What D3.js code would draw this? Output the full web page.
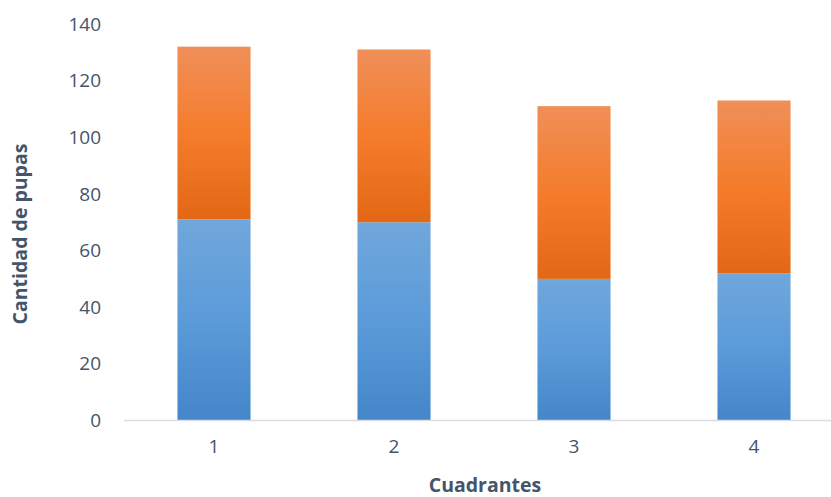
<!DOCTYPE html>
<html>
<head>
<meta charset="utf-8">
<script src="https://cdn.jsdelivr.net/npm/d3@7"></script>
<style>
  html, body { margin: 0; padding: 0; background: #fff; }
  svg { display: block; }
</style>
</head>
<body>
<svg id="chart" width="831" height="497"></svg>
<script>
// Pupae counted per quadrant, split into two stacked groups
const categories = ["1", "2", "3", "4"];
const seriesLower = [71, 70, 50, 52];
const seriesUpper = [61, 61, 61, 61];
const yTicks = [0, 20, 40, 60, 80, 100, 120, 140];

const svg = d3.select("#chart");
const plot = { left: 124, right: 844, top: 24, bottom: 420.5 };
const textColor = "#44546A";
const font = "'Open Sans', sans-serif";

const x = d3.scaleBand()
  .domain(categories)
  .range([plot.left, plot.right])
  .paddingInner(0.594)
  .paddingOuter(0.297);

const y = d3.scaleLinear()
  .domain([0, 140])
  .range([plot.bottom, plot.top]);

// Vertical gradients for the two series
const defs = svg.append("defs");
const blueGrad = defs.append("linearGradient")
  .attr("id", "gradBlue").attr("x1", 0).attr("y1", 0).attr("x2", 0).attr("y2", 1);
blueGrad.append("stop").attr("offset", "0%").attr("stop-color", "#70A7DC");
blueGrad.append("stop").attr("offset", "50%").attr("stop-color", "#5B9BD9");
blueGrad.append("stop").attr("offset", "100%").attr("stop-color", "#4486C9");

const orangeGrad = defs.append("linearGradient")
  .attr("id", "gradOrange").attr("x1", 0).attr("y1", 0).attr("x2", 0).attr("y2", 1);
orangeGrad.append("stop").attr("offset", "0%").attr("stop-color", "#F08F59");
orangeGrad.append("stop").attr("offset", "50%").attr("stop-color", "#F47C2B");
orangeGrad.append("stop").attr("offset", "100%").attr("stop-color", "#E36815");

const rows = categories.map((c, i) => ({ cat: c, lower: seriesLower[i], upper: seriesUpper[i] }));
const stacked = d3.stack().keys(["lower", "upper"])(rows);
const fills = { lower: "url(#gradBlue)", upper: "url(#gradOrange)" };

svg.append("g").selectAll("g")
  .data(stacked)
  .join("g")
  .attr("fill", d => fills[d.key])
  .selectAll("rect")
  .data(d => d)
  .join("rect")
  .attr("x", d => x(d.data.cat))
  .attr("width", x.bandwidth())
  .attr("y", d => y(d[1]))
  .attr("height", d => y(d[0]) - y(d[1]));

// Baseline axis
svg.append("line")
  .attr("x1", plot.left).attr("x2", plot.right)
  .attr("y1", y(0)).attr("y2", y(0))
  .attr("stroke", "#D9DEE6").attr("stroke-width", 1.5);

// Y tick labels
const yAxis = svg.append("g")
  .attr("transform", `translate(${plot.left},0)`)
  .call(d3.axisLeft(y).tickValues(yTicks).tickSize(0).tickPadding(23));
yAxis.select(".domain").remove();
yAxis.selectAll("text")
  .attr("fill", textColor)
  .style("font-family", font)
  .style("font-size", "19px");

// X tick labels
const xAxis = svg.append("g")
  .attr("transform", `translate(0,${y(0)})`)
  .call(d3.axisBottom(x).tickSize(0).tickPadding(19));
xAxis.select(".domain").remove();
xAxis.selectAll("text")
  .attr("fill", textColor)
  .style("font-family", font)
  .style("font-size", "19px");

// Axis titles
svg.append("text")
  .attr("x", 485).attr("y", 492)
  .attr("text-anchor", "middle")
  .attr("fill", textColor)
  .style("font-family", font)
  .style("font-weight", "bold")
  .style("font-size", "19.5px")
  .text("Cuadrantes");

svg.append("text")
  .attr("transform", "translate(27,234) rotate(-90)")
  .attr("text-anchor", "middle")
  .attr("fill", textColor)
  .style("font-family", font)
  .style("font-weight", "bold")
  .style("font-size", "19.5px")
  .text("Cantidad de pupas");
</script>
</body>
</html>
